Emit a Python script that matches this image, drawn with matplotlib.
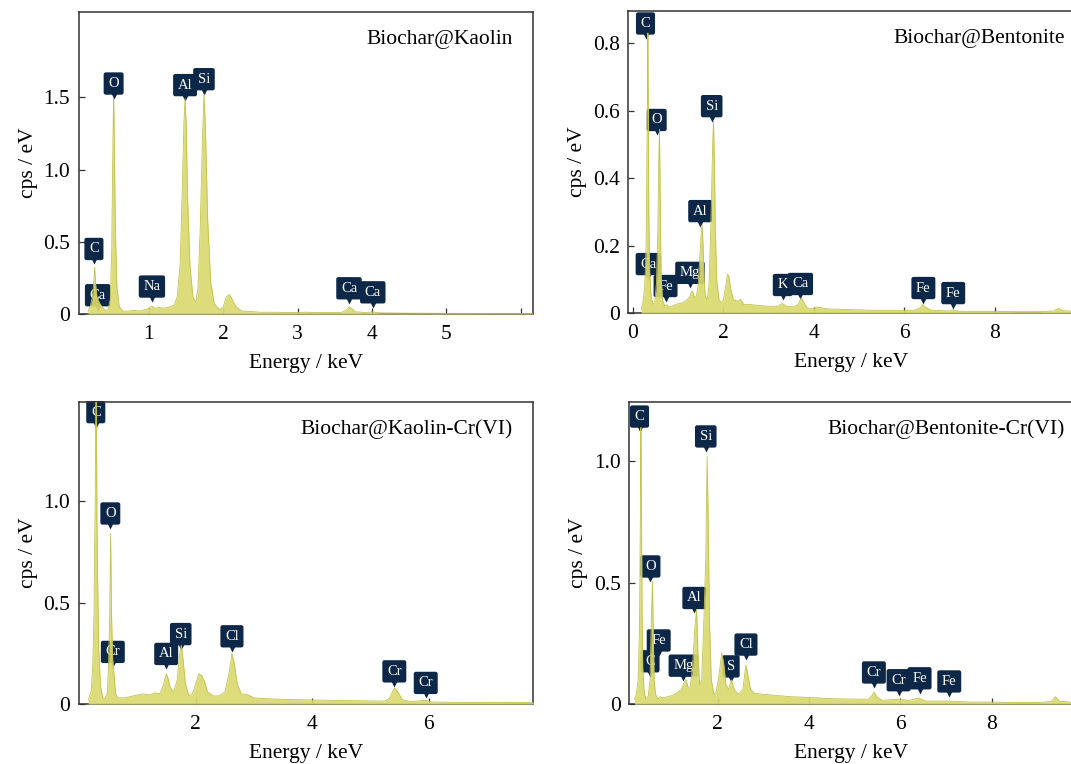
import matplotlib
matplotlib.use("Agg")
import matplotlib.pyplot as plt
from matplotlib.transforms import offset_copy

plt.rcParams['font.family'] = ['Liberation Serif', 'DejaVu Serif']

# ---- Biochar@Kaolin ----
e1 = [0.18, 0.21, 0.24, 0.26, 0.27, 0.28, 0.30, 0.33, 0.37, 0.41, 0.45, 0.48, 0.50, 0.51,
      0.52, 0.525, 0.53, 0.54, 0.55, 0.57, 0.60, 0.65, 0.72, 0.80, 0.88, 0.95, 1.00, 1.04,
      1.08, 1.14, 1.20, 1.28, 1.34, 1.38, 1.42, 1.45, 1.47, 1.485, 1.50, 1.52, 1.55, 1.59,
      1.63, 1.66, 1.69, 1.72, 1.74, 1.76, 1.79, 1.83, 1.88, 1.95, 2.00, 2.04, 2.08, 2.12,
      2.17, 2.25, 2.35, 2.50, 2.70, 2.90, 3.10, 3.30, 3.50, 3.60, 3.66, 3.69, 3.72, 3.78,
      3.90, 4.01, 4.10, 4.40, 4.80, 5.20, 5.60, 6.00, 6.17]
c1 = [0.02, 0.05, 0.12, 0.24, 0.325, 0.22, 0.12, 0.08, 0.05, 0.025, 0.03, 0.10, 0.45, 0.95,
      1.35, 1.49, 1.38, 0.95, 0.55, 0.18, 0.05, 0.02, 0.02, 0.025, 0.02, 0.03, 0.04, 0.055,
      0.04, 0.045, 0.04, 0.05, 0.06, 0.12, 0.35, 0.90, 1.32, 1.49, 1.32, 0.80, 0.35, 0.12,
      0.08, 0.18, 0.60, 1.22, 1.52, 1.28, 0.65, 0.22, 0.07, 0.03, 0.05, 0.12, 0.135, 0.10,
      0.05, 0.02, 0.018, 0.012, 0.012, 0.01, 0.012, 0.01, 0.01, 0.012, 0.03, 0.05, 0.04, 0.015,
      0.01, 0.014, 0.008, 0.006, 0.005, 0.004, 0.003, 0.003, 0.003]
lab1 = ['C', 'Ca', 'O', 'Na', 'Al', 'Si', 'Ca', 'Ca']
lx1 = [0.26, 0.31, 0.525, 1.04, 1.486, 1.74, 3.69, 4.01]
ly1 = [0.45, 0.13, 1.595, 0.19, 1.584, 1.625, 0.178, 0.15]

# ---- Biochar@Bentonite ----
e2 = [0.18, 0.22, 0.26, 0.29, 0.31, 0.32, 0.33, 0.34, 0.35, 0.37, 0.40, 0.44, 0.48, 0.52,
      0.55, 0.57, 0.585, 0.60, 0.62, 0.65, 0.70, 0.74, 0.80, 0.90, 1.00, 1.10, 1.20, 1.26,
      1.30, 1.33, 1.36, 1.40, 1.44, 1.48, 1.51, 1.53, 1.55, 1.57, 1.60, 1.64, 1.68, 1.72,
      1.76, 1.78, 1.80, 1.82, 1.85, 1.90, 1.95, 2.00, 2.05, 2.09, 2.12, 2.16, 2.22, 2.30,
      2.38, 2.45, 2.60, 2.80, 3.00, 3.20, 3.30, 3.40, 3.55, 3.65, 3.72, 3.78, 3.85, 3.95,
      4.05, 4.30, 4.80, 5.30, 5.80, 6.20, 6.35, 6.40, 6.45, 6.60, 7.00, 7.06, 7.20, 7.80,
      8.50, 9.00, 9.30, 9.40, 9.50, 9.75]
c2 = [0.01, 0.03, 0.08, 0.20, 0.48, 0.64, 0.83, 0.60, 0.30, 0.12, 0.05, 0.025, 0.03, 0.09,
      0.25, 0.45, 0.545, 0.38, 0.12, 0.04, 0.02, 0.025, 0.018, 0.022, 0.028, 0.03, 0.04, 0.05,
      0.065, 0.06, 0.045, 0.05, 0.08, 0.17, 0.24, 0.26, 0.20, 0.10, 0.05, 0.04, 0.08, 0.25,
      0.49, 0.57, 0.45, 0.25, 0.10, 0.04, 0.03, 0.04, 0.08, 0.115, 0.11, 0.07, 0.04, 0.035,
      0.04, 0.025, 0.025, 0.022, 0.02, 0.02, 0.028, 0.02, 0.018, 0.025, 0.045, 0.03, 0.015, 0.012,
      0.018, 0.012, 0.01, 0.008, 0.008, 0.008, 0.015, 0.025, 0.018, 0.008, 0.006, 0.01, 0.005, 0.005,
      0.004, 0.004, 0.006, 0.014, 0.007, 0.005]
lab2 = ['C', 'O', 'Si', 'Al', 'Ca', 'Fe', 'Mg', 'K', 'Ca', 'Fe', 'Fe']
lx2 = [0.277, 0.525, 1.74, 1.486, 0.34, 0.72, 1.26, 3.31, 3.70, 6.42, 7.08]
ly2 = [0.858, 0.572, 0.613, 0.302, 0.145, 0.08, 0.119, 0.083, 0.086, 0.074, 0.059]

# ---- Biochar@Kaolin-Cr(VI) ----
e3 = [0.15, 0.20, 0.23, 0.25, 0.26, 0.27, 0.28, 0.29, 0.30, 0.31, 0.33, 0.36, 0.40, 0.44,
      0.48, 0.50, 0.52, 0.535, 0.55, 0.57, 0.59, 0.62, 0.66, 0.75, 0.85, 1.00, 1.10, 1.20,
      1.30, 1.38, 1.44, 1.49, 1.52, 1.56, 1.62, 1.68, 1.72, 1.75, 1.78, 1.82, 1.88, 1.94,
      2.00, 2.05, 2.10, 2.15, 2.20, 2.30, 2.40, 2.50, 2.57, 2.62, 2.66, 2.71, 2.78, 2.90,
      3.00, 3.30, 3.60, 4.00, 4.50, 5.00, 5.25, 5.33, 5.41, 5.47, 5.55, 5.70, 5.94, 6.05,
      6.50, 7.00, 7.50, 7.80]
c3 = [0.02, 0.06, 0.20, 0.45, 0.79, 0.95, 1.60, 1.60, 0.95, 0.65, 0.28, 0.09, 0.03, 0.025,
      0.06, 0.20, 0.45, 0.84, 0.45, 0.22, 0.16, 0.05, 0.03, 0.03, 0.035, 0.045, 0.05, 0.045,
      0.055, 0.05, 0.09, 0.15, 0.13, 0.08, 0.06, 0.12, 0.24, 0.29, 0.22, 0.10, 0.04, 0.05,
      0.10, 0.15, 0.14, 0.11, 0.06, 0.04, 0.04, 0.06, 0.15, 0.25, 0.20, 0.10, 0.05, 0.045,
      0.03, 0.025, 0.022, 0.02, 0.017, 0.015, 0.015, 0.03, 0.08, 0.06, 0.02, 0.012, 0.018, 0.01,
      0.008, 0.008, 0.007, 0.007]
lab3 = ['C', 'O', 'Cr', 'Al', 'Si', 'Cl', 'Cr', 'Cr']
lx3 = [0.28, 0.53, 0.573, 1.49, 1.74, 2.62, 5.41, 5.95]
ly3 = [1.44, 0.94, 0.257, 0.247, 0.345, 0.334, 0.161, 0.104]

# ---- Biochar@Bentonite-Cr(VI) ----
e4 = [0.18, 0.22, 0.26, 0.29, 0.31, 0.32, 0.33, 0.345, 0.36, 0.39, 0.43, 0.48, 0.52, 0.55,
      0.575, 0.59, 0.61, 0.64, 0.70, 0.74, 0.80, 0.90, 1.00, 1.10, 1.20, 1.27, 1.31, 1.35,
      1.40, 1.45, 1.50, 1.54, 1.57, 1.61, 1.65, 1.70, 1.74, 1.77, 1.79, 1.82, 1.86, 1.92,
      1.97, 2.03, 2.09, 2.13, 2.18, 2.24, 2.30, 2.36, 2.45, 2.55, 2.62, 2.66, 2.72, 2.80,
      3.00, 3.30, 3.60, 4.00, 4.50, 5.00, 5.30, 5.38, 5.42, 5.48, 5.60, 5.95, 6.20, 6.40,
      6.55, 7.06, 7.50, 8.00, 8.50, 9.00, 9.30, 9.39, 9.48, 9.80]
c4 = [0.02, 0.04, 0.10, 0.31, 0.80, 1.14, 0.90, 0.40, 0.15, 0.05, 0.02, 0.03, 0.10, 0.36,
      0.505, 0.30, 0.10, 0.04, 0.02, 0.03, 0.025, 0.03, 0.035, 0.045, 0.06, 0.09, 0.10, 0.07,
      0.07, 0.15, 0.31, 0.39, 0.20, 0.08, 0.10, 0.35, 0.60, 1.02, 0.80, 0.35, 0.10, 0.04,
      0.05, 0.12, 0.21, 0.17, 0.08, 0.06, 0.10, 0.06, 0.04, 0.06, 0.16, 0.12, 0.06, 0.045,
      0.04, 0.035, 0.03, 0.027, 0.022, 0.02, 0.02, 0.035, 0.05, 0.03, 0.015, 0.02, 0.015, 0.025,
      0.012, 0.012, 0.008, 0.008, 0.006, 0.006, 0.01, 0.03, 0.012, 0.006]
lab4 = ['C', 'Si', 'O', 'Al', 'Fe', 'C', 'Mg', 'S', 'Cl', 'Cr', 'Cr', 'Fe', 'Fe']
lx4 = [0.29, 1.74, 0.53, 1.49, 0.71, 0.52, 1.25, 2.29, 2.62, 5.42, 5.96, 6.42, 7.07]
ly4 = [1.185, 1.103, 0.567, 0.437, 0.262, 0.176, 0.158, 0.155, 0.245, 0.13, 0.098, 0.106, 0.093]

titles = ['Biochar@Kaolin', 'Biochar@Bentonite', 'Biochar@Kaolin-Cr(VI)', 'Biochar@Bentonite-Cr(VI)']

FILL = '#d9d970'
EDGE = '#c2c24c'
NAVY = '#0c2748'

W, H = 1071, 764
fig = plt.figure(figsize=(W / 100, H / 100), dpi=100)


def px_axes(l, t, r, b):
    return fig.add_axes([l / W, 1 - b / H, (r - l) / W, (b - t) / H])


axs = [px_axes(78.6, 12, 533.4, 314),
       px_axes(628, 11, 1074, 313),
       px_axes(78.6, 402, 533.4, 704),
       px_axes(629, 402, 1074, 704)]

spectra = [(e1, c1), (e2, c2), (e3, c3), (e4, c4)]
labels = [(lab1, lx1, ly1), (lab2, lx2, ly2), (lab3, lx3, ly3), (lab4, lx4, ly4)]
xlims = [(0.054, 6.17), (-0.11, 9.75), (-0.015, 7.8), (0.06, 9.8)]
ylims = [(0, 2.09), (0, 0.895), (0, 1.49), (0, 1.245)]
xticks = [[1, 2, 3, 4, 5, 6], [0, 2, 4, 6, 8], [2, 4, 6], [2, 4, 6, 8]]
xticklabels = [['1', '2', '3', '4', '5', ''], ['0', '2', '4', '6', '8'], ['2', '4', '6'], ['2', '4', '6', '8']]
yticks = [[0, 0.5, 1.0, 1.5], [0, 0.2, 0.4, 0.6, 0.8], [0, 0.5, 1.0], [0, 0.5, 1.0]]

for i, ax in enumerate(axs):
    e, c = spectra[i]
    ax.fill_between(e, 0, c, color=FILL, lw=0, alpha=0.92, zorder=3)
    ax.plot(e, c, color=EDGE, lw=0.6, zorder=3)

    for name, x, y in zip(*labels[i]):
        ax.text(x, y, name, ha='center', va='center', color='white', fontsize=10.5, zorder=2,
                bbox=dict(boxstyle='round,pad=0.32,rounding_size=0.15', fc=NAVY, ec='none'))
        tr = offset_copy(ax.transData, fig=fig, x=0, y=-12.5, units='dots')
        ax.plot([x], [y], marker='v', ms=4.5, color=NAVY, mec='none', transform=tr, zorder=2)

    ax.set_xlim(*xlims[i])
    ax.set_ylim(*ylims[i])
    ax.set_xticks(xticks[i])
    ax.set_xticklabels(xticklabels[i])
    ax.set_yticks(yticks[i])
    ax.set_yticklabels(['0' if v == 0 else f'{v:.1f}' for v in yticks[i]])
    ax.tick_params(direction='in', length=4, width=0.9, labelsize=15.5, color='#333333')
    ax.tick_params(axis='x', pad=8)
    ax.tick_params(axis='y', pad=6)
    for s in ax.spines.values():
        s.set_linewidth(1.1)
        s.set_color('#333333')
    ax.set_xlabel('Energy / keV', fontsize=15.5, labelpad=7)
    ax.set_ylabel('cps / eV', fontsize=15.5, labelpad=4)
    ax.text(0.955 if i in (0, 2) else 0.98, 0.91, titles[i], transform=ax.transAxes,
            ha='right', va='center', fontsize=15.5)

fig.savefig('out.png', dpi=100)
